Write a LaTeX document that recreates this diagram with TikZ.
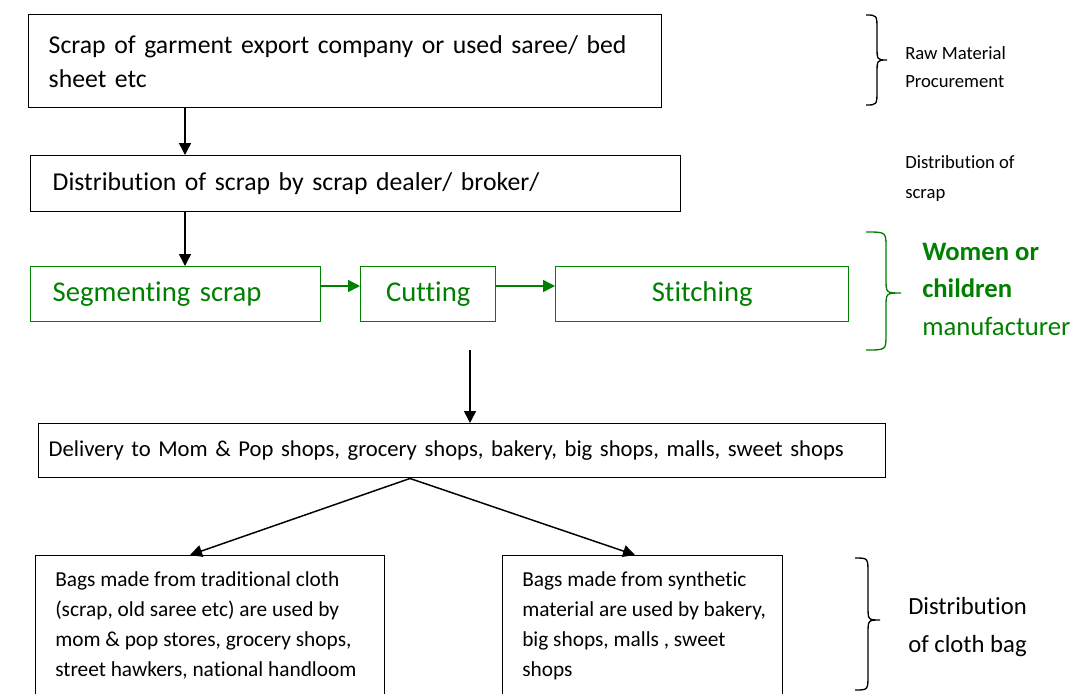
\documentclass[tikz,border=0pt]{standalone}
\usepackage{fontspec}
\setmainfont{Carlito}[Ligatures=CommonOff]
\usepackage{xcolor}
\usetikzlibrary{arrows.meta,positioning,calc}
\definecolor{mfgreen}{RGB}{0,128,0}
\newcommand{\sidebrace}[7][]{%
	\draw[#1] (#2,#5) .. controls (#3,#5) .. (#3,#5+15) -- (#3,#6-14)
		.. controls (#3,#6) .. (#4,#6) .. controls (#3,#6) .. (#3,#6+14)
		-- (#3,#7-15) .. controls (#3,#7) .. (#2,#7);}

\begin{document}
\begin{tikzpicture}[x=0.75pt,y=-0.75pt,
	box/.style={draw,line width=1.1pt,anchor=north west,align=left,inner ysep=0pt},
	gbox/.style={box,draw=mfgreen,text=mfgreen,font=\fontsize{21.5}{26}\selectfont},
	arr/.style={-{Triangle[length=9pt,width=9pt]},line width=1.1pt},
	garr/.style={arr,mfgreen},
	side/.style={anchor=north west,align=left,inner sep=0pt}]
	\useasboundingbox (0,0) rectangle (1088,693);
	\clip (0,0) rectangle (1088,693);
	\coordinate (colA) at (185,0);
	\coordinate (colB) at (470,0);
	\coordinate (rowG) at (0,286);
	\node[box,inner xsep=15pt,text width=444.75pt,minimum height=69.75pt,font=\fontsize{19.3}{25.5}\selectfont] (raw) at (28,14) {Scrap of garment export company or used saree/ bed\\sheet etc};
	\node[box,inner xsep=16.5pt,text width=454.5pt,minimum height=42pt,font=\fontsize{19.3}{22}\selectfont] (dist) at (30,155) {Distribution of scrap by scrap dealer/ broker/};
	\node[gbox,inner xsep=16.5pt,text width=184.5pt,minimum height=41.25pt] (seg) at (30,266) {Segmenting scrap};
	\node[gbox,inner xsep=0pt,text width=101.25pt,align=center,minimum height=41.25pt] (cut) at (360,266) {Cutting};
	\node[gbox,inner xsep=0pt,text width=219.75pt,align=center,minimum height=41.25pt] (stitch) at (555,266) {Stitching};
	\coordinate (made) at (470,350);
	\node[box,inner xsep=7.5pt,text width=620.25pt,minimum height=40.5pt,font=\fontsize{17}{20}\selectfont] (deliv) at (38,423) {Delivery to Mom \& Pop shops, grocery shops, bakery, big shops, malls, sweet shops};
	\node[box,minimum width=261.75pt,minimum height=120pt] (old) at (35,555) {};
	\node[side,font=\fontsize{16}{22.5}\selectfont] (oldtxt) at ($(old.north west)+(20,16)$) {Bags made from traditional cloth\\(scrap, old saree etc) are used by\\mom \& pop stores, grocery shops,\\street hawkers, national handloom};
	\node[box,minimum width=210pt,minimum height=120pt] (synth) at (502,555) {};
	\node[side,font=\fontsize{16}{22.5}\selectfont] (synthtxt) at ($(synth.north west)+(20,16)$) {Bags made from synthetic\\material are used by bakery,\\big shops, malls , sweet\\shops};

	\draw[arr] (raw.south -| colA) -- (dist.north -| colA);
	\draw[arr] (dist.south -| colA) -- (seg.north -| colA);
	\draw[garr] (seg.east |- rowG) -- (cut.west |- rowG);
	\draw[garr] (cut.east |- rowG) -- (stitch.west |- rowG);
	\draw[arr] (made) -- (deliv.north -| colB);
	\draw[arr] ($(deliv.south west)+(372,0)$) -- ($(old.north west)+(155,0)$);
	\draw[arr] ($(deliv.south west)+(372,0)$) -- ($(synth.north west)+(133,0)$);

	\sidebrace[line width=1pt]{866}{877}{887}{15}{60}{105}
	\sidebrace[line width=1pt,mfgreen]{866}{886}{901}{232}{293}{350}
	\sidebrace[line width=1pt]{855}{868}{880}{558}{620}{690}
	\node[side,font=\fontsize{14}{21}\selectfont] (rawlbl) at (905,46) {Raw Material\\Procurement};
	\node[side,font=\fontsize{14}{23}\selectfont] (distlbl) at (905,155) {Distribution of\\scrap};
	\node[side,text=mfgreen,font=\fontsize{20}{28}\selectfont] (mflbl) at (922,243) {\textbf{Women or}\\\textbf{children}\\manufacturer};
	\node[side,font=\fontsize{18.5}{28.5}\selectfont] (baglbl) at (908,597) {Distribution\\of cloth bag};
\end{tikzpicture}
\end{document}
